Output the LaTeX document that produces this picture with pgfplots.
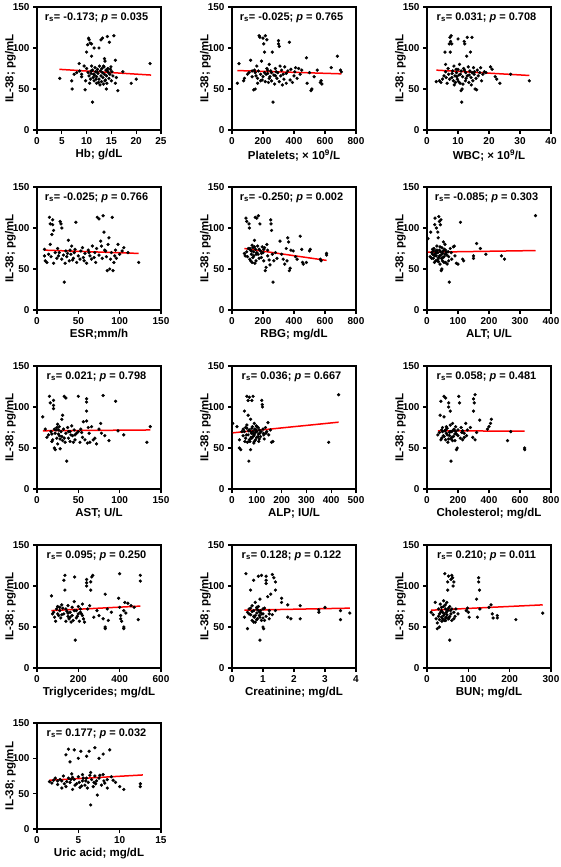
\documentclass[border=0pt]{standalone}
\usepackage{fontspec}
\setmainfont{Liberation Sans}
\usepackage{pgfplots}
\pgfplotsset{compat=1.18}
\pgfplotsset{
  panel/.style={
    scale only axis, width=124pt, height=123pt,
    ymin=0, ymax=150, ytick={0,50,100,150},
    axis line style={line width=1.1pt},
    every tick/.style={line width=1.1pt, black},
    tick align=outside, major tick length=4pt,
    xtick pos=bottom, ytick pos=left,
    minor tick num=0,
    /pgf/number format/assume math mode=true,
    /pgf/number format/1000 sep={},
    ticklabel style={font=\fontsize{10}{12}\selectfont\bfseries},
    label style={font=\fontsize{11.5}{13}\selectfont\bfseries},
    ylabel={IL-38; pg/mL},
    xlabel style={yshift=2pt},
    ylabel style={yshift=-10pt},
    clip=false,
  },
  dots/.style={only marks, mark=*, mark size=1.45pt, black},
  fit/.style={red, line width=1.5pt, no marks},
}
\newcommand{\stat}[2]{\node[font=\fontsize{11}{13}\selectfont\bfseries] at (rel axis cs:0.48,0.915) {r\textsubscript{s}= #1; \textit{p} = #2};}
\begin{document}
\begin{tikzpicture}
\path[use as bounding box] (0,0) rectangle (561pt,-867pt);
% ---------- Row 1 ----------
\begin{axis}[panel, at={(37pt,-130pt)}, anchor=south west, xmin=0, xmax=25, xtick={0,5,10,15,20,25}, xlabel={Hb; g/dL}]
\addplot[dots] coordinates {(4.6,63)(7,60)(7.1,50)(7.5,68)(8,70)(8.5,81)(8.6,72)(9,68)(9,65)(9.5,78)(9.7,49)(10,95)(10.2,104)(10.4,112)(10.5,110)(10.7,106)(11,105)(10.9,72)(11.2,34)(11,90)(11.5,100)(12.5,100)(12.9,110)(13.2,112)(14.2,114)(14.6,107)(15.5,115)(13.6,87)(13.7,84)(15.8,85)(16.3,48)(15.8,57)(16,64)(17.3,71)(19,57)(20,62)(22.8,81)(14,50)(13.4,56)
(10,75)(10.3,70)(10.5,66)(10.8,62)(11,78)(11.2,73)(11.4,68)(11.5,60)(11.7,76)(11.8,71)(12,65)(12,57)(12.2,74)(12.3,69)(12.5,62)(12.6,78)(12.8,72)(12.9,66)(13,59)(13.1,75)(13.2,70)(13.3,64)(13.5,77)(13.6,68)(13.8,61)(13.9,73)(14,66)(14.1,57)(14.3,75)(14.4,70)(14.5,63)(14.7,68)(14.8,74)(15,60)(15.1,71)(15.3,66)(9.8,60)(10.6,57)(11.9,62)(12.4,58)(13.4,78)(12.1,71)(11.3,64)(14.9,77)(10.9,69)(12.7,55)(13.7,60)(11.6,67)(14.2,72)};
\addplot[fit] coordinates {(4.5,74)(23,67)};
\stat{-0.173}{0.035}
\end{axis}
\begin{axis}[panel, at={(232pt,-130pt)}, anchor=south west, xmin=0, xmax=800, xtick={0,200,400,600,800}, xlabel={Platelets; × 10\textsuperscript{9}/L}]
\addplot[dots] coordinates {(35,57)(45,81)(75,60)(80,63)(100,68)(110,70)(120,85)(130,72)(140,49)(150,50)(150,70)(160,78)(165,63)(170,72)(175,115)(180,113)(185,60)(190,84)(200,112)(205,105)(210,95)(210,70)(215,115)(220,68)(225,110)(230,73)(235,58)(240,80)(245,65)(250,72)(255,60)(260,95)(265,34)(270,67)(275,56)(280,75)(290,63)(295,70)(300,105)(300,109)(305,102)(305,59)(310,78)(315,66)(320,73)(325,55)(330,68)(335,62)(340,77)(350,57)(360,72)(370,107)(375,61)(380,74)(390,58)(400,66)(405,71)(410,76)(420,63)(430,75)(440,68)(450,73)(480,88)(485,57)(500,70)(510,48)(515,50)(530,65)(550,73)(570,58)(575,60)(580,56)(640,76)(680,90)(700,73)(705,71)(130,65)(145,73)(155,66)(165,57)(185,68)(195,61)(225,75)(240,63)(255,70)(285,71)(350,69)(200,65)(215,59)(230,69)(280,66)};
\addplot[fit] coordinates {(35,72.5)(705,68.5)};
\stat{-0.025}{0.765}
\end{axis}
\begin{axis}[panel, at={(427pt,-130pt)}, anchor=south west, xmin=0, xmax=40, xtick={0,10,20,30,40}, xlabel={WBC; × 10\textsuperscript{9}/L}]
\addplot[dots] coordinates {(3,59)(4,60)(4.5,58)(5,62)(5.5,66)(5.8,95)(6,80)(6,71)(6.5,57)(6.8,75)(7,68)(7.2,105)(7.4,113)(7.6,108)(7.8,115)(7.5,95)(8,105)(8,64)(8.3,72)(8.5,60)(8.7,78)(9,66)(9.2,58)(9.5,70)(9.8,62)(10,74)(10,111)(10.3,67)(10.5,80)(10.7,57)(11,72)(11,48)(11.2,34)(11.3,50)(11.5,65)(11.8,75)(12,108)(12.2,105)(12.4,60)(12.5,70)(12.8,90)(13,113)(13,66)(13.3,77)(13.5,58)(13.8,72)(14,95)(14.2,64)(14.5,70)(14.5,113)(14.8,60)(15,76)(15.2,68)(15.5,50)(15.8,63)(16,49)(16.2,73)(16.5,66)(17,70)(17.3,76)(17.6,60)(18,68)(18.5,71)(19,70)(20.5,77)(21,74)(22,65)(22.5,62)(23.5,57)(27,68)(33,60)(6.2,64)(7.3,62)(8.1,69)(8.8,55)(9.4,74)(10.2,59)(10.8,68)(11.6,56)(12.6,63)(13.6,67)(14.3,55)(9.6,65)(12.1,73)(15.3,71)};
\addplot[fit] coordinates {(3,73)(33,66.5)};
\stat{0.031}{0.708}
\end{axis}
% ---------- Row 2 ----------
\begin{axis}[panel, at={(37pt,-310pt)}, anchor=south west, xmin=0, xmax=150, xtick={0,50,100,150}, xlabel={ESR;mm/h}]
\addplot[dots] coordinates {(9,74)(9,66)(10,60)(12,58)(14,68)(15,113)(16,105)(16,80)(17,65)(18,92)(19,110)(19,104)(20,57)(20,97)(22,70)(24,63)(25,75)(27,70)(28,108)(29,105)(30,100)(30,62)(32,67)(33,34)(34,57)(35,72)(36,65)(38,85)(39,60)(40,73)(41,68)(42,78)(44,63)(45,70)(47,107)(48,58)(50,66)(52,62)(53,72)(55,76)(57,60)(58,69)(60,57)(62,73)(64,66)(66,62)(67,78)(70,70)(71,58)(72,75)(73,113)(75,111)(75,67)(77,84)(78,78)(79,63)(80,115)(81,95)(83,72)(84,65)(85,48)(86,80)(87,88)(88,50)(89,62)(90,70)(91,113)(92,48)(93,58)(94,66)(95,73)(98,80)(100,68)(103,72)(105,76)(110,70)(123,58)(37,69)(46,74)(56,64)(63,70)(82,73)(96,63)(26,66)(43,61)(69,64)};
\addplot[fit] coordinates {(9,73)(123,69)};
\stat{-0.025}{0.766}
\end{axis}
\begin{axis}[panel, at={(232pt,-310pt)}, anchor=south west, xmin=0, xmax=800, xtick={0,200,400,600,800}, xlabel={RBG; mg/dL}]
\addplot[dots] coordinates {(80,69)(85,66)(90,112)(95,108)(95,71)(100,65)(105,75)(110,105)(112,100)(115,62)(120,73)(125,68)(130,79)(130,58)(135,76)(140,71)(140,66)(145,85)(148,57)(150,113)(152,74)(155,60)(160,112)(165,78)(168,68)(170,115)(175,63)(180,105)(185,72)(190,64)(195,77)(200,70)(205,60)(210,76)(215,48)(220,52)(225,80)(230,73)(240,61)(245,55)(250,110)(252,105)(255,97)(260,68)(265,34)(270,60)(280,70)(290,63)(310,84)(320,68)(330,62)(340,56)(350,75)(355,60)(360,88)(365,83)(370,48)(375,51)(380,73)(395,72)(410,65)(420,62)(440,90)(450,74)(455,58)(460,56)(480,58)(500,72)(505,74)(570,62)(575,60)(610,67)(610,69)(115,75)(125,72)(135,64)(160,70)(175,74)(190,69)(205,74)(145,77)(120,60)(230,66)(155,68)};
\addplot[fit] coordinates {(80,75)(610,60.5)};
\stat{-0.250}{0.002}
\end{axis}
\begin{axis}[panel, at={(427pt,-310pt)}, anchor=south west, xmin=0, xmax=400, xtick={0,100,200,300,400}, xlabel={ALT; U/L}]
\addplot[dots] coordinates {(3,87)(10,65)(12,95)(15,70)(18,68)(20,63)(22,75)(24,58)(25,104)(26,112)(28,72)(30,66)(30,100)(32,78)(33,60)(35,95)(35,70)(36,88)(38,64)(38,114)(40,73)(40,108)(42,56)(43,104)(45,110)(45,67)(46,48)(48,50)(48,76)(50,60)(52,72)(53,83)(55,65)(56,74)(58,80)(60,58)(62,70)(65,56)(68,71)(70,65)(72,34)(75,75)(78,70)(80,62)(85,77)(88,78)(90,66)(95,57)(100,56)(108,107)(115,62)(118,60)(150,66)(150,63)(160,81)(172,75)(190,68)(240,66)(250,62)(350,115)(20,72)(25,66)(28,60)(32,73)(35,62)(40,66)(44,71)(50,69)(55,58)(60,73)(64,67)(70,60)(15,63)(18,74)(27,69)(37,59)(42,77)(47,63)(52,64)(58,68)(24,67)(33,70)};
\addplot[fit] coordinates {(3,70.5)(350,72.5)};
\stat{-0.085}{0.303}
\end{axis}
% ---------- Row 3 ----------
\begin{axis}[panel, at={(37pt,-489pt)}, anchor=south west, xmin=0, xmax=150, xtick={0,50,100,150}, xlabel={AST; U/L}]
\addplot[dots] coordinates {(7,88)(10,73)(12,63)(14,66)(15,113)(16,105)(17,70)(18,58)(19,60)(20,108)(20,102)(20,98)(21,50)(22,68)(22,48)(23,72)(24,62)(25,79)(25,55)(26,67)(27,76)(28,61)(28,49)(29,70)(30,85)(30,64)(31,90)(32,73)(33,113)(34,57)(35,111)(35,68)(36,34)(37,75)(38,62)(40,70)(40,58)(42,77)(43,65)(44,57)(45,72)(46,60)(48,68)(50,113)(50,70)(52,57)(53,73)(55,63)(56,82)(58,60)(60,110)(60,106)(60,95)(60,83)(61,56)(62,75)(64,57)(66,76)(68,60)(70,62)(72,55)(75,73)(77,80)(78,68)(80,114)(82,65)(87,59)(95,107)(98,71)(105,66)(133,57)(137,76)(18,67)(26,72)(33,62)(38,70)(46,66)(54,69)(63,68)(24,75)(31,59)(41,66)(27,65)(21,73)};
\addplot[fit] coordinates {(7,71)(137,72)};
\stat{0.021}{0.798}
\end{axis}
\begin{axis}[panel, at={(232pt,-489pt)}, anchor=south west, xmin=0, xmax=500, xtick={0,100,200,300,400,500}, xlabel={ALP; IU/L}]
\addplot[dots] coordinates {(3,80)(20,76)(30,60)(30,50)(35,48)(40,70)(45,65)(50,95)(55,75)(58,66)(60,113)(62,57)(65,108)(65,90)(68,34)(70,112)(70,72)(72,58)(75,85)(75,48)(78,68)(80,108)(80,62)(82,76)(85,113)(85,70)(88,56)(90,80)(90,66)(92,73)(95,60)(98,77)(100,70)(100,63)(105,75)(108,58)(110,72)(112,68)(115,64)(120,108)(122,103)(123,100)(125,73)(128,66)(130,61)(135,75)(140,70)(145,81)(148,66)(155,72)(160,57)(165,58)(390,57)(430,115)(50,70)(55,62)(60,74)(65,66)(70,60)(75,70)(80,74)(85,64)(90,58)(95,69)(100,76)(105,64)(110,61)(60,78)(67,71)(77,63)(87,67)(97,72)(107,67)(117,70)(127,68)(137,68)(45,73)(52,58)};
\addplot[fit] coordinates {(3,68.5)(430,81.5)};
\stat{0.036}{0.667}
\end{axis}
\begin{axis}[panel, at={(427pt,-489pt)}, anchor=south west, xmin=0, xmax=800, xtick={0,200,400,600,800}, xlabel={Cholesterol; mg/dL}]
\addplot[dots] coordinates {(70,66)(80,69)(85,90)(90,107)(95,62)(100,75)(105,65)(110,113)(110,88)(115,71)(120,111)(120,60)(125,68)(130,74)(135,57)(140,105)(140,100)(145,65)(150,95)(150,78)(155,34)(155,61)(160,70)(165,80)(170,64)(175,73)(180,59)(185,76)(190,48)(190,67)(195,50)(200,72)(205,113)(210,105)(215,62)(220,75)(225,69)(230,60)(240,68)(250,80)(255,65)(260,72)(280,75)(295,63)(300,110)(300,95)(305,105)(310,115)(310,60)(320,69)(340,84)(390,73)(400,76)(410,80)(415,85)(520,59)(540,70)(630,48)(630,50)(100,70)(110,64)(120,72)(130,66)(140,61)(150,70)(160,63)(170,72)(180,67)(90,60)(95,72)(200,65)(230,71)(240,63)(125,76)(145,69)(165,59)(185,70)};
\addplot[fit] coordinates {(70,71)(630,70.5)};
\stat{0.058}{0.481}
\end{axis}
% ---------- Row 4 ----------
\begin{axis}[panel, at={(37pt,-668pt)}, anchor=south west, xmin=0, xmax=600, xtick={0,200,400,600}, xlabel={Triglycerides; mg/dL}]
\addplot[dots] coordinates {(70,88)(75,66)(80,68)(90,57)(95,72)(100,75)(105,64)(110,70)(115,61)(120,77)(125,73)(130,107)(135,113)(135,95)(140,57)(145,69)(150,76)(150,63)(155,60)(160,68)(165,56)(170,74)(175,58)(180,81)(182,111)(185,34)(190,70)(195,63)(200,75)(205,57)(210,72)(215,66)(220,78)(225,60)(230,56)(240,108)(240,104)(240,100)(245,72)(255,76)(260,105)(260,95)(265,111)(270,113)(275,62)(290,70)(300,64)(320,60)(330,90)(330,48)(330,50)(340,72)(345,58)(395,85)(400,115)(400,74)(405,64)(405,60)(410,57)(420,50)(420,48)(420,70)(425,80)(430,67)(440,79)(455,76)(470,74)(490,59)(500,113)(500,106)(85,62)(110,74)(130,66)(150,67)(170,64)(190,61)(210,68)(120,65)(140,72)(160,62)(180,70)(200,66)(220,64)(100,66)(360,68)};
\addplot[fit] coordinates {(70,70)(500,75.5)};
\stat{0.095}{0.250}
\end{axis}
\begin{axis}[panel, at={(232pt,-668pt)}, anchor=south west, xmin=0, xmax=4, xtick={0,1,2,3,4}, xlabel={Creatinine; mg/dL}]
\addplot[dots] coordinates {(0.4,62)(0.45,115)(0.5,48)(0.5,68)(0.55,72)(0.6,65)(0.6,95)(0.65,58)(0.65,76)(0.7,107)(0.7,70)(0.72,62)(0.75,80)(0.75,56)(0.8,67)(0.8,72)(0.82,60)(0.85,75)(0.85,112)(0.88,64)(0.9,34)(0.9,84)(0.92,70)(0.95,113)(0.95,58)(1.0,66)(1.0,50)(1.02,48)(1.05,73)(1.1,112)(1.1,107)(1.1,103)(1.1,63)(1.15,87)(1.2,70)(1.2,60)(1.25,90)(1.3,114)(1.3,65)(1.35,110)(1.4,95)(1.4,105)(1.4,70)(1.6,85)(1.6,80)(1.8,77)(1.8,62)(1.9,60)(2.2,76)(2.2,60)(2.8,68)(2.8,71)(3.0,74)(3.5,70)(3.5,59)(3.8,67)(0.6,73)(0.7,63)(0.8,59)(0.9,68)(1.0,61)(0.55,66)(0.65,69)(0.75,64)(0.85,70)(0.95,66)(0.7,56)(0.8,74)(0.9,62)(1.2,66)(1.0,72)(1.05,58)};
\addplot[fit] coordinates {(0.4,70.5)(3.8,73)};
\stat{0.128}{0.122}
\end{axis}
\begin{axis}[panel, at={(427pt,-668pt)}, anchor=south west, xmin=0, xmax=300, xtick={0,100,200,300}, xlabel={BUN; mg/dL}]
\addplot[dots] coordinates {(10,68)(15,65)(20,80)(22,60)(25,55)(25,48)(28,72)(30,50)(30,66)(32,78)(35,62)(35,70)(38,60)(40,75)(40,82)(42,66)(43,115)(45,58)(45,72)(47,68)(48,80)(50,105)(50,95)(52,112)(52,60)(55,34)(55,75)(57,70)(58,108)(60,113)(60,58)(62,110)(63,100)(65,105)(65,68)(68,63)(70,72)(75,66)(95,70)(98,73)(100,68)(102,62)(120,84)(122,62)(125,110)(125,105)(127,95)(128,72)(150,74)(155,77)(158,66)(160,61)(170,64)(170,61)(215,59)(280,67)(30,59)(35,74)(40,64)(45,61)(50,70)(55,63)(60,72)(38,68)(42,58)(48,65)(52,73)(58,66)(28,63)(33,68)(65,60)(44,77)(36,57)(47,62)(53,61)};
\addplot[fit] coordinates {(10,70.5)(280,77)};
\stat{0.210}{0.011}
\end{axis}
% ---------- Row 5 ----------
\begin{axis}[panel, height=106pt, at={(37pt,-829pt)}, anchor=south west, xmin=0, xmax=15, xtick={0,5,10,15}, xlabel={Uric acid; mg/dL}]
\addplot[dots] coordinates {(1.5,67)(1.8,65)(2,69)(2.2,72)(2.5,63)(2.8,70)(3,58)(3,68)(3.2,75)(3.5,105)(3.5,60)(3.8,113)(3.8,72)(4,66)(4,95)(4.2,78)(4.3,56)(4.5,112)(4.5,70)(4.8,64)(5,100)(5,74)(5.2,59)(5.3,110)(5.5,68)(5.5,77)(5.8,62)(6,72)(6,103)(6.2,66)(6.3,110)(6.5,80)(6.5,34)(6.8,60)(7,75)(7,115)(7.2,68)(7.3,48)(7.5,100)(7.5,72)(7.8,62)(8,106)(8,77)(8.2,65)(8.5,70)(8.5,58)(8.8,112)(9,74)(9.5,66)(10,60)(10.5,56)(12.5,64)(12.5,60)(2.5,68)(3.3,64)(4.1,70)(4.6,62)(5.1,66)(5.6,72)(6.1,58)(6.6,70)(7.1,64)(7.6,76)(8.1,68)(3.6,67)(4.3,73)(5.4,61)(6.4,76)(6.9,66)(5.9,68)(9.2,69)};
\addplot[fit] coordinates {(1.5,69)(12.8,76.5)};
\node[font=\fontsize{11}{13}\selectfont\bfseries] at (rel axis cs:0.48,0.9) {r\textsubscript{s}= 0.177; \textit{p} = 0.032};
\end{axis}
\end{tikzpicture}
\end{document}
